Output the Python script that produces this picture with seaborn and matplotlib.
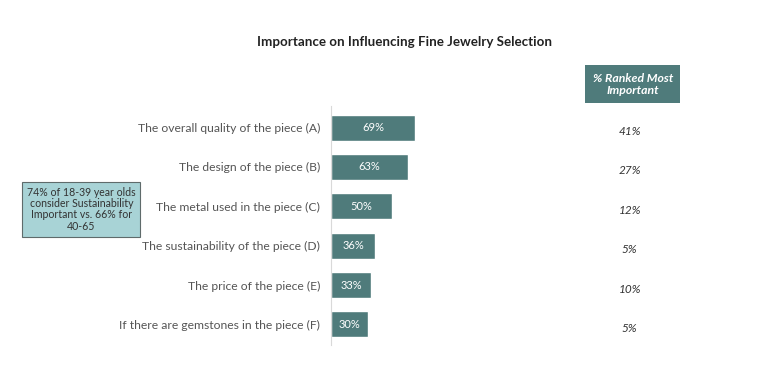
import pandas as pd
import seaborn as sns
import matplotlib.pyplot as plt
from matplotlib import transforms

# data
factors = [
    "The overall quality of the piece (A)",
    "The design of the piece (B)",
    "The metal used in the piece (C)",
    "The sustainability of the piece (D)",
    "The price of the piece (E)",
    "If there are gemstones in the piece (F)",
]
importance = [69, 63, 50, 36, 33, 30]
ranked_most = [41, 27, 12, 5, 10, 5]

df = pd.DataFrame({"factor": factors, "importance": importance, "ranked": ranked_most})

sns.set_style("white")
plt.rcParams["font.family"] = ["Lato", "DejaVu Sans"]

bar_color = "#4f7b7b"

fig = plt.figure(figsize=(7.68, 3.77), dpi=100)
ax = fig.add_axes([0.431, 0.085, 0.30, 0.634])

sns.barplot(data=df, x="importance", y="factor", color=bar_color, width=0.66,
            saturation=1, ax=ax)

ax.set_xlim(0, 188.5)
ax.set_ylim(5.52, -0.55)
ax.set_xlabel("")
ax.set_ylabel("")
ax.set_xticks([])
ax.tick_params(axis="y", length=0, pad=8, labelsize=8.7, labelcolor="#555555")
for s in ["top", "right", "bottom"]:
    ax.spines[s].set_visible(False)
ax.spines["left"].set_color("#d9d9d9")
ax.spines["left"].set_linewidth(0.8)

# bar labels
for i, v in enumerate(importance):
    ax.text(v / 2, i, f"{v}%", ha="center", va="center", color="white", fontsize=8)

# right column
trans = transforms.blended_transform_factory(fig.transFigure, ax.transData)
for i, v in enumerate(ranked_most):
    ax.text(0.82, i + 0.1, f"{v}%", transform=trans, ha="center", va="center",
            fontsize=8.5, style="italic", color="#333333")

fig.text(0.824, 0.777, "% Ranked Most\nImportant", ha="center", va="center",
         fontsize=8.8, fontweight="bold", style="italic", color="white", linespacing=1.1,
         bbox=dict(boxstyle="square,pad=0.6", facecolor=bar_color, edgecolor="none"))

fig.text(0.106, 0.445, "74% of 18-39 year olds\nconsider Sustainability\nImportant vs. 66% for\n40-65",
         ha="center", va="center", fontsize=7.6, color="#333333", linespacing=1.05,
         bbox=dict(boxstyle="square,pad=0.45", facecolor="#a8d3d6", edgecolor="#5f6b6b", linewidth=0.8))

fig.suptitle("Importance on Influencing Fine Jewelry Selection", x=0.527, y=0.905,
             fontsize=9.6, fontweight="bold", color="#222222")

plt.savefig("out.png", dpi=100)
plt.close()
